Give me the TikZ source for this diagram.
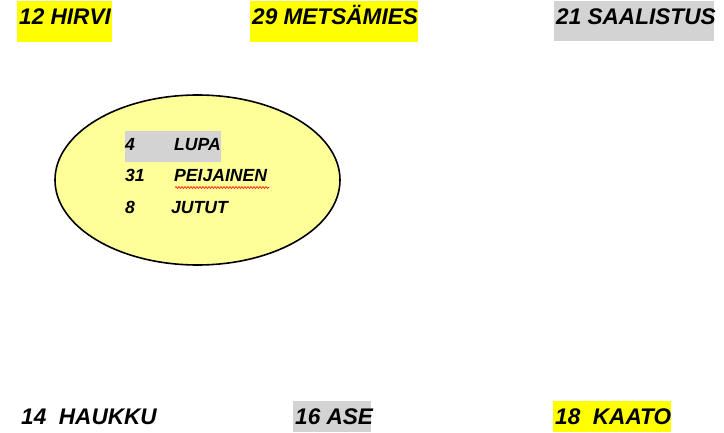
\documentclass[tikz,border=0pt]{standalone}
\usepackage{fontspec}
\setmainfont{Liberation Sans}
\usetikzlibrary{decorations.pathmorphing}
\definecolor{hlyellow}{HTML}{FFFF00}
\definecolor{hlgray}{HTML}{D3D3D3}
\definecolor{ellfill}{HTML}{FFFF99}
\begin{document}
\begin{tikzpicture}[x=1pt,y=-1pt,
  big/.style={anchor=base west,inner sep=0pt,font=\fontsize{22.6}{26}\selectfont\bfseries\itshape},
  small/.style={anchor=base west,inner sep=0pt,font=\fontsize{17.6}{20}\selectfont\bfseries\itshape},
  hly/.style={fill=hlyellow},
  hlg/.style={fill=hlgray}]
\useasboundingbox (0,0) rectangle (724,433);
% highlights
\fill[hly] (17,1) rectangle (112,42);
\fill[hly] (250,1) rectangle (418,42);
\fill[hlg] (554,1) rectangle (714,41);
\fill[hlg] (293,401) rectangle (371,432);
\fill[hly] (553,401) rectangle (671,432);
% top labels
\node[big] (hirvi) at (19,25) {12 HIRVI};
\node[big] (mets) at (252,25) {29 METSÄMIES};
\node[big] (saal) at (556,25) {21 SAALISTUS};
% ellipse
\draw[line width=1.6pt,fill=ellfill] (197.5,180) ellipse [x radius=142.5,y radius=85];
\node[draw=none,inner sep=0pt] (ell) at (197.5,180) {};
\fill[hlg] (125,131) rectangle (221,162);
\node[small] (n4) at (125,151) {4};
\node[small] (lupa) at (174,151) {LUPA};
\node[small] (n31) at (125,182) {31};
\node[small] (peij) at (174,182) {PEIJAINEN};
\draw[red,line width=0.6pt,decorate,decoration={snake,amplitude=1pt,segment length=3pt}] (175,187.5) -- (269,187.5);
\node[small] (n8) at (125,214) {8};
\node[small] (jutut) at (171,214) {JUTUT};
% bottom labels
\node[big] (hauk) at (21,424) {14\ \ HAUKKU};
\node[big] (ase) at (295,424) {16 ASE};
\node[big] (kaato) at (555,424) {18\ \ KAATO};
\end{tikzpicture}
\end{document}
